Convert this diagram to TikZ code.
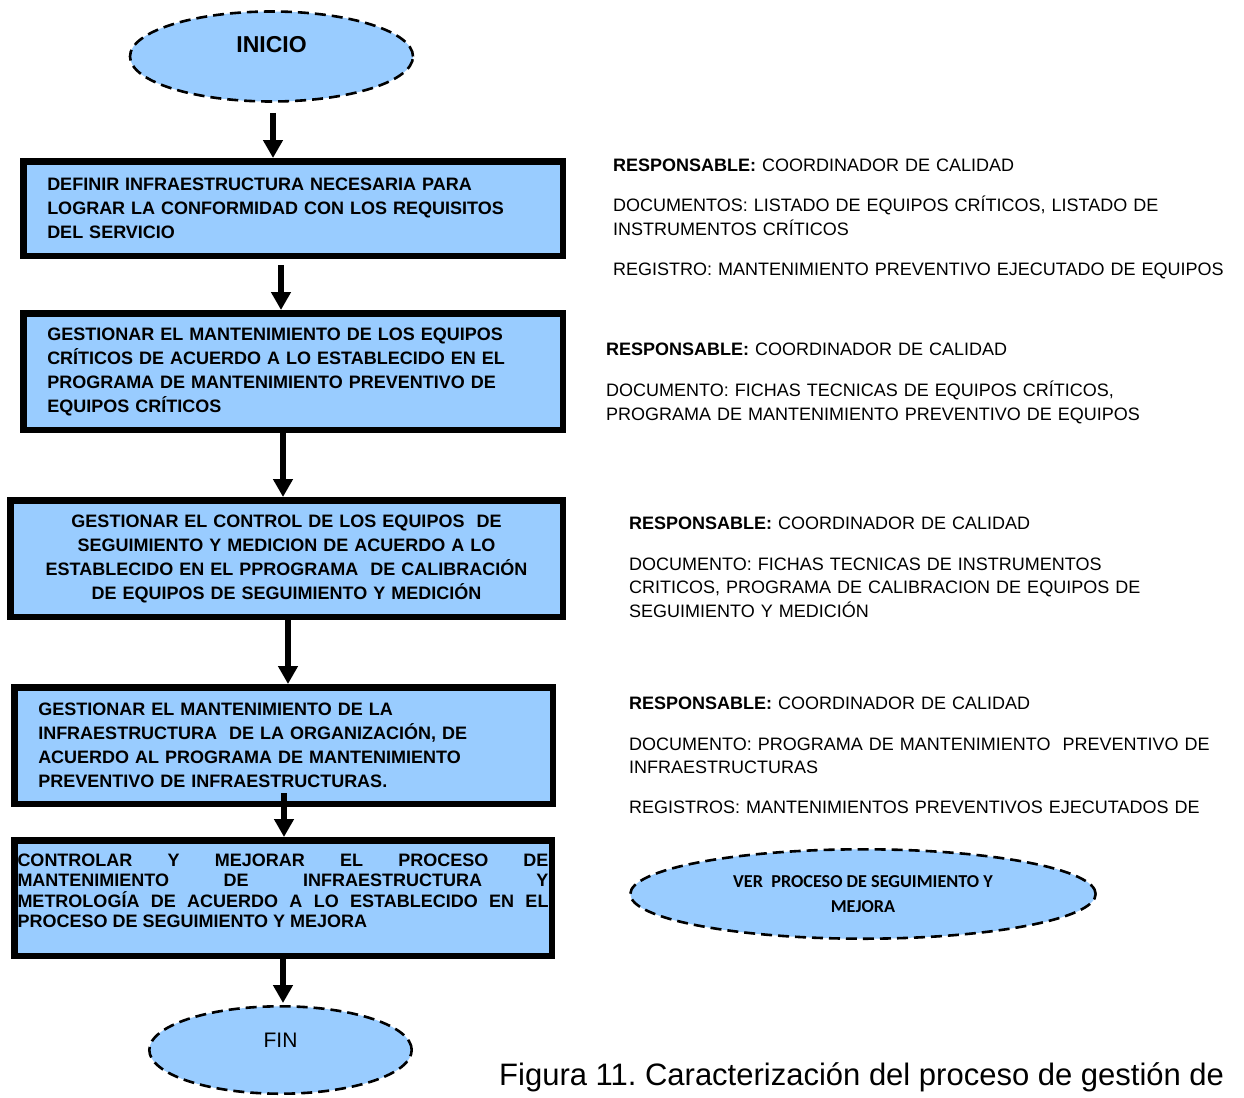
\documentclass[tikz,border=0pt]{standalone}
\usepackage{fontspec}
\setmainfont{Liberation Sans}
\newfontfamily\calfont{Carlito}
\usetikzlibrary{shapes.geometric,arrows.meta,calc}
\definecolor{boxblue}{HTML}{99CCFF}
\hbadness=10000
\tolerance=10000
\frenchspacing
\begin{document}
\begin{tikzpicture}[x=1pt,y=-1pt,
  proc/.style={rectangle, draw=black, line width=6.5pt, fill=boxblue,
    inner ysep=0pt, inner xsep=24pt,
    font=\bfseries\fontsize{18}{24}\selectfont},
  term/.style={ellipse, draw=black, line width=2.6pt,
    dash pattern=on 11pt off 6pt, fill=boxblue, inner sep=0pt},
  flow/.style={line width=5.4pt, -{Triangle[length=18pt,width=19pt]}},
  note/.style={anchor=base west, inner sep=0pt, text width=660pt,
    align=left, font=\fontsize{18}{23.5}\selectfont}
]
\useasboundingbox (0,0) rectangle (1244,1097);

% terminal ellipses
\node[term, minimum width=283pt, minimum height=90pt,
  font=\bfseries\fontsize{23}{27}\selectfont,
  text height=17pt, text depth=25.6pt] (ini) at (271.5,56.5) {INICIO};
\node[term, minimum width=262.4pt, minimum height=87.4pt,
  font=\fontsize{21}{25}\selectfont,
  text height=15pt, text depth=20pt] (fin) at (280.5,1050) {FIN};
\node[term, minimum width=465.4pt, minimum height=89.4pt, align=center,
  font=\calfont\bfseries\fontsize{18.2}{24.5}\selectfont] (ver) at (863,894)
  {VER\ \ PROCESO DE SEGUIMIENTO Y\\MEJORA};

% process boxes
\node[proc, minimum width=539.5pt, minimum height=94.5pt,
  text width=491.5pt, align=left] (b1) at (293,208.5)
  {DEFINIR INFRAESTRUCTURA NECESARIA PARA\\LOGRAR LA CONFORMIDAD CON LOS REQUISITOS\\DEL SERVICIO};
\node[proc, minimum width=539.5pt, minimum height=116.5pt,
  text width=491.5pt, align=left] (b2) at (293,371.5)
  {GESTIONAR EL MANTENIMIENTO DE LOS EQUIPOS\\CRÍTICOS DE ACUERDO A LO ESTABLECIDO EN EL\\PROGRAMA DE MANTENIMIENTO PREVENTIVO DE\\EQUIPOS CRÍTICOS};
\node[proc, minimum width=552.5pt, minimum height=116.5pt,
  text width=504.5pt, align=center] (b3) at (286.5,558.5)
  {GESTIONAR EL CONTROL DE LOS EQUIPOS\ \ DE\\SEGUIMIENTO Y MEDICION DE ACUERDO A LO\\ESTABLECIDO EN EL PPROGRAMA\ \ DE CALIBRACIÓN\\DE EQUIPOS DE SEGUIMIENTO Y MEDICIÓN};
\node[proc, minimum width=538.5pt, minimum height=116.5pt,
  text width=490.5pt, align=left] (b4) at (283.5,745.5)
  {GESTIONAR EL MANTENIMIENTO DE LA\\INFRAESTRUCTURA\ \ DE LA ORGANIZACIÓN, DE\\ACUERDO AL PROGRAMA DE MANTENIMIENTO\\PREVENTIVO DE INFRAESTRUCTURAS.};
\node[proc, minimum width=537.5pt, minimum height=115.5pt, inner xsep=0pt,
  text width=531pt, align=justify, text depth=75.8pt,
  font=\bfseries\fontsize{18}{20.5}\selectfont] (b5) at (283,898)
  {CONTROLAR Y MEJORAR EL PROCESO DE\linebreak
   MANTENIMIENTO DE INFRAESTRUCTURA Y\linebreak
   METROLOGÍA DE ACUERDO A LO ESTABLECIDO EN EL\linebreak
   PROCESO DE SEGUIMIENTO Y MEJORA};

% flow arrows
\draw[flow] ($(ini.south)+(1.5,10)$) coordinate (s1) -- (s1 |- b1.north);
\draw[flow] ($(b1.south)+(-12,6)$) coordinate (s2) -- (s2 |- b2.north);
\draw[flow] ($(b2.south)+(-10,0)$) coordinate (s3) -- (s3 |- b3.north);
\draw[flow] ($(b3.south)+(1.5,0)$) coordinate (s4) -- (s4 |- b4.north);
\draw[flow] ($(b4.south)+(0.5,-14)$) coordinate (s5) -- (s5 |- b5.north);
\draw[flow] (b5.south) coordinate (s6) -- ($(s6 |- fin.north)+(0,-2)$);

% responsibilities and documents
\node[note] (r1) at (613,171) {\textbf{RESPONSABLE:} COORDINADOR DE CALIDAD};
\node[note] (d1) at (613,211.5) {DOCUMENTOS: LISTADO DE EQUIPOS CRÍTICOS, LISTADO DE\\INSTRUMENTOS CRÍTICOS};
\node[note] (g1) at (613,275) {REGISTRO: MANTENIMIENTO PREVENTIVO EJECUTADO DE EQUIPOS};

\node[note] (r2) at (606,355.5) {\textbf{RESPONSABLE:} COORDINADOR DE CALIDAD};
\node[note] (d2) at (606,396.5) {DOCUMENTO: FICHAS TECNICAS DE EQUIPOS CRÍTICOS,\\PROGRAMA DE MANTENIMIENTO PREVENTIVO DE EQUIPOS};

\node[note] (r3) at (629,529.5) {\textbf{RESPONSABLE:} COORDINADOR DE CALIDAD};
\node[note] (d3) at (629,570) {DOCUMENTO: FICHAS TECNICAS DE INSTRUMENTOS\\CRITICOS, PROGRAMA DE CALIBRACION DE EQUIPOS DE\\SEGUIMIENTO Y MEDICIÓN};

\node[note] (r4) at (629,709.5) {\textbf{RESPONSABLE:} COORDINADOR DE CALIDAD};
\node[note] (d4) at (629,750) {DOCUMENTO: PROGRAMA DE MANTENIMIENTO\ \ PREVENTIVO DE\\INFRAESTRUCTURAS};
\node[note] (g4) at (629,813.5) {REGISTROS: MANTENIMIENTOS PREVENTIVOS EJECUTADOS DE};

% caption
\node[anchor=base west, inner sep=0pt, font=\fontsize{31}{36}\selectfont] (cap)
  at (499,1085) {Figura 11. Caracterización del proceso de gestión de};
\end{tikzpicture}
\end{document}
